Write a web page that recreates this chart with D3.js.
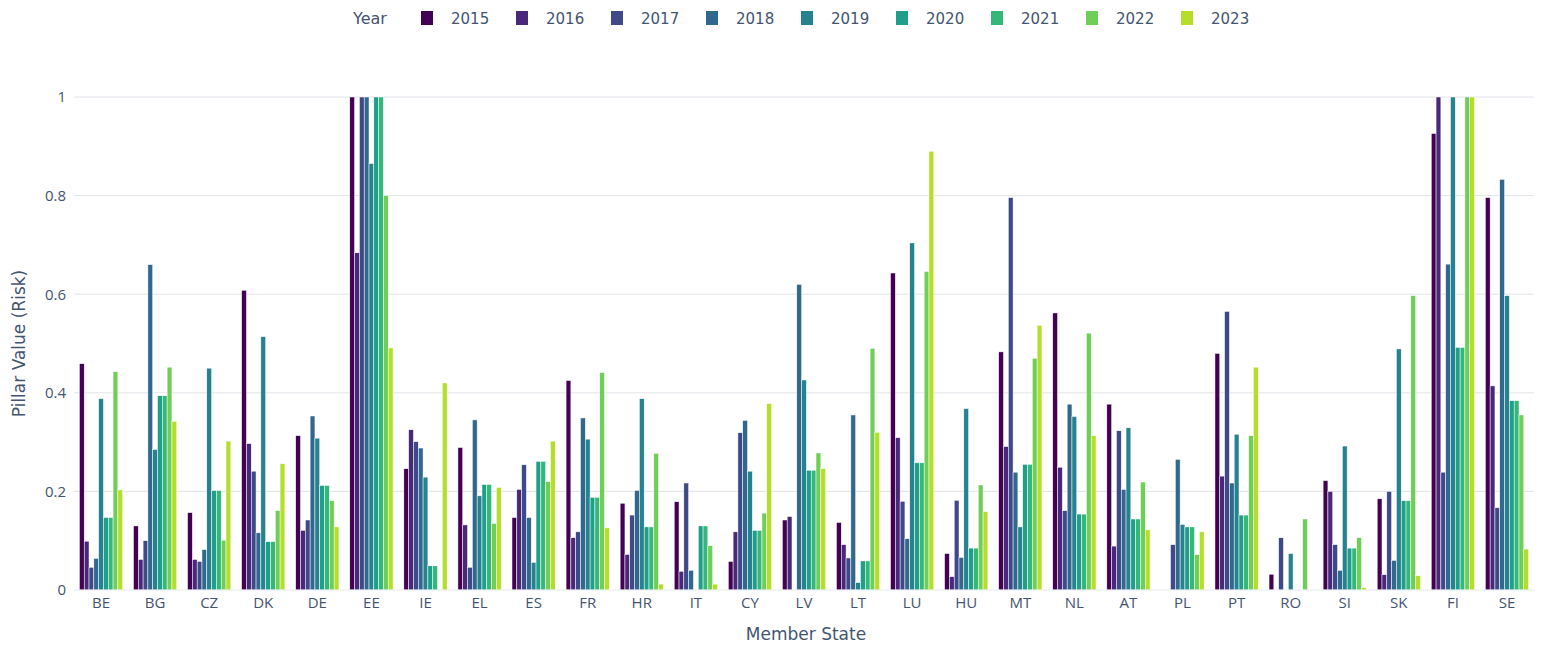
<!DOCTYPE html>
<html>
<head>
<meta charset="utf-8">
<script src="https://cdn.jsdelivr.net/npm/d3@7/dist/d3.min.js"></script>
<style>
  html, body { margin: 0; padding: 0; background: #fff; }
  svg { display: block; }
</style>
</head>
<body>
<svg id="chart" width="1546" height="652"></svg>
<script>
const countries = ["BE","BG","CZ","DK","DE","EE","IE","EL","ES","FR","HR","IT","CY","LV","LT","LU","HU","MT","NL","AT","PL","PT","RO","SI","SK","FI","SE"];
const years = ["2015","2016","2017","2018","2019","2020","2021","2022","2023"];
const yearColors = ["#440154","#482878","#3e4989","#31688e","#26828e","#1f9e89","#35b779","#6ece58","#b5de2b"];
const yTickValues = [0, 0.2, 0.4, 0.6, 0.8, 1];
const yTickLabels = ["0", "0.2", "0.4", "0.6", "0.8", "1"];

// Series values per year, in the order of `countries`
const v2015 = [0.459,0.130,0.157,0.608,0.313,1.000,0.246,0.289,0.147,0.425,0.176,0.179,0.058,0.142,0.137,0.643,0.074,0.483,0.562,0.377,0,0.480,0.032,0.222,0.185,0.926,0.796];
const v2016 = [0.099,0.062,0.062,0.297,0.121,0.684,0.325,0.132,0.204,0.106,0.072,0.038,0.118,0.149,0.092,0.309,0.027,0.291,0.249,0.089,0,0.231,0,0.200,0.031,1.000,0.414];
const v2017 = [0.046,0.100,0.058,0.241,0.142,1.000,0.301,0.046,0.254,0.118,0.152,0.217,0.319,0,0.065,0.180,0.182,0.796,0.161,0.323,0.092,0.565,0.106,0.092,0.200,0.239,0.167];
const v2018 = [0.064,0.660,0.082,0.116,0.353,1.000,0.288,0.345,0.147,0.349,0.202,0.040,0.344,0.620,0.355,0.104,0.066,0.239,0.377,0.204,0.265,0.217,0,0.040,0.060,0.661,0.833];
const v2019 = [0.388,0.285,0.450,0.514,0.308,0.865,0.229,0.191,0.056,0.306,0.388,0,0.241,0.426,0.015,0.704,0.368,0.128,0.352,0.329,0.133,0.316,0.074,0.292,0.489,1.000,0.597];
const v2020 = [0.147,0.394,0.202,0.098,0.212,1.000,0.049,0.214,0.261,0.188,0.128,0.130,0.121,0.243,0.059,0.258,0.085,0.255,0.154,0.144,0.128,0.152,0,0.085,0.181,0.492,0.384];
const v2021 = [0.147,0.394,0.202,0.098,0.212,1.000,0.049,0.214,0.261,0.188,0.128,0.130,0.121,0.243,0.059,0.258,0.085,0.255,0.154,0.144,0.128,0.152,0,0.085,0.181,0.492,0.384];
const v2022 = [0.443,0.452,0.101,0.161,0.181,0.800,0,0.135,0.220,0.441,0.277,0.090,0.156,0.278,0.490,0.646,0.213,0.470,0.521,0.219,0.072,0.313,0.144,0.106,0.597,1.000,0.355];
const v2023 = [0.203,0.342,0.302,0.256,0.128,0.491,0.420,0.208,0.302,0.126,0.012,0.012,0.378,0.246,0.320,0.890,0.159,0.537,0.313,0.122,0.118,0.452,0,0.005,0.029,1.000,0.083];

const series = [v2015, v2016, v2017, v2018, v2019, v2020, v2021, v2022, v2023];

const svg = d3.select("#chart");
const plot = { left: 74, right: 1534, top: 97, bottom: 590 };
const textColor = "#44546f";
const tickFont = "'Open Sans', 'DejaVu Sans', sans-serif";
const titleFont = "'DejaVu Sans', Verdana, sans-serif";

const x = d3.scaleBand().domain(countries).range([plot.left, plot.right]).paddingInner(0.2).paddingOuter(0.1);
const xs = d3.scaleBand().domain(years).range([0, x.bandwidth()]).padding(0);
const y = d3.scaleLinear().domain([0, 1]).range([plot.bottom, plot.top]);

// Gridlines
svg.append("g").selectAll("line").data(yTickValues.filter(d => d > 0)).join("line")
  .attr("x1", plot.left).attr("x2", plot.right)
  .attr("y1", d => y(d)).attr("y2", d => y(d))
  .attr("stroke", "#e1e4ea").attr("stroke-width", 1);

// Bars
const rows = [];
countries.forEach((c, i) => {
  years.forEach((yr, j) => {
    rows.push({ country: c, year: yr, value: series[j][i], color: yearColors[j] });
  });
});
svg.append("g").selectAll("rect").data(rows.filter(d => d.value > 0)).join("rect")
  .attr("x", d => x(d.country) + xs(d.year))
  .attr("width", xs.bandwidth())
  .attr("y", d => y(d.value))
  .attr("height", d => y(0) - y(d.value))
  .attr("fill", d => d.color)
  .attr("stroke", "#ffffff").attr("stroke-width", 0.5);

// Zero line
svg.append("line")
  .attr("x1", plot.left).attr("x2", plot.right)
  .attr("y1", y(0)).attr("y2", y(0))
  .attr("stroke", "#e6eaf1").attr("stroke-width", 1);

// Y axis
const yAxis = d3.axisLeft(y).tickValues(yTickValues)
  .tickFormat((d, i) => yTickLabels[i]).tickSize(0).tickPadding(8);
const gy = svg.append("g").attr("transform", `translate(${plot.left},0)`).call(yAxis);
gy.select(".domain").remove();
gy.selectAll("text").attr("fill", textColor).style("font-family", tickFont).style("font-size", "15px");

// X axis
const xAxis = d3.axisBottom(x).tickSize(0).tickPadding(7);
const gx = svg.append("g").attr("transform", `translate(0,${plot.bottom})`).call(xAxis);
gx.select(".domain").remove();
gx.selectAll("text").attr("fill", textColor).style("font-family", tickFont).style("font-size", "15px");

// Axis titles
svg.append("text")
  .attr("x", 806).attr("y", 640)
  .attr("text-anchor", "middle")
  .attr("fill", textColor).style("font-family", titleFont).style("font-size", "17px")
  .text("Member State");

svg.append("text")
  .attr("transform", `translate(25,${(plot.top + plot.bottom) / 2}) rotate(-90)`)
  .attr("text-anchor", "middle")
  .attr("fill", textColor).style("font-family", titleFont).style("font-size", "17px")
  .text("Pillar Value (Risk)");

// Legend
const legend = svg.append("g");
legend.append("text")
  .attr("x", 353).attr("y", 24)
  .attr("fill", textColor).style("font-family", titleFont).style("font-size", "16px")
  .text("Year");
const legendX = d3.scalePoint().domain(years).range([421, 421 + 8 * 95]);
const items = legend.selectAll("g.item").data(years).join("g").attr("class", "item")
  .attr("transform", d => `translate(${legendX(d)},0)`);
items.append("rect")
  .attr("x", 0).attr("y", 11).attr("width", 12).attr("height", 14)
  .attr("fill", (d, i) => yearColors[i]);
items.append("text")
  .attr("x", 30).attr("y", 24)
  .attr("fill", textColor).style("font-family", titleFont).style("font-size", "15px")
  .text(d => d);
</script>
</body>
</html>
